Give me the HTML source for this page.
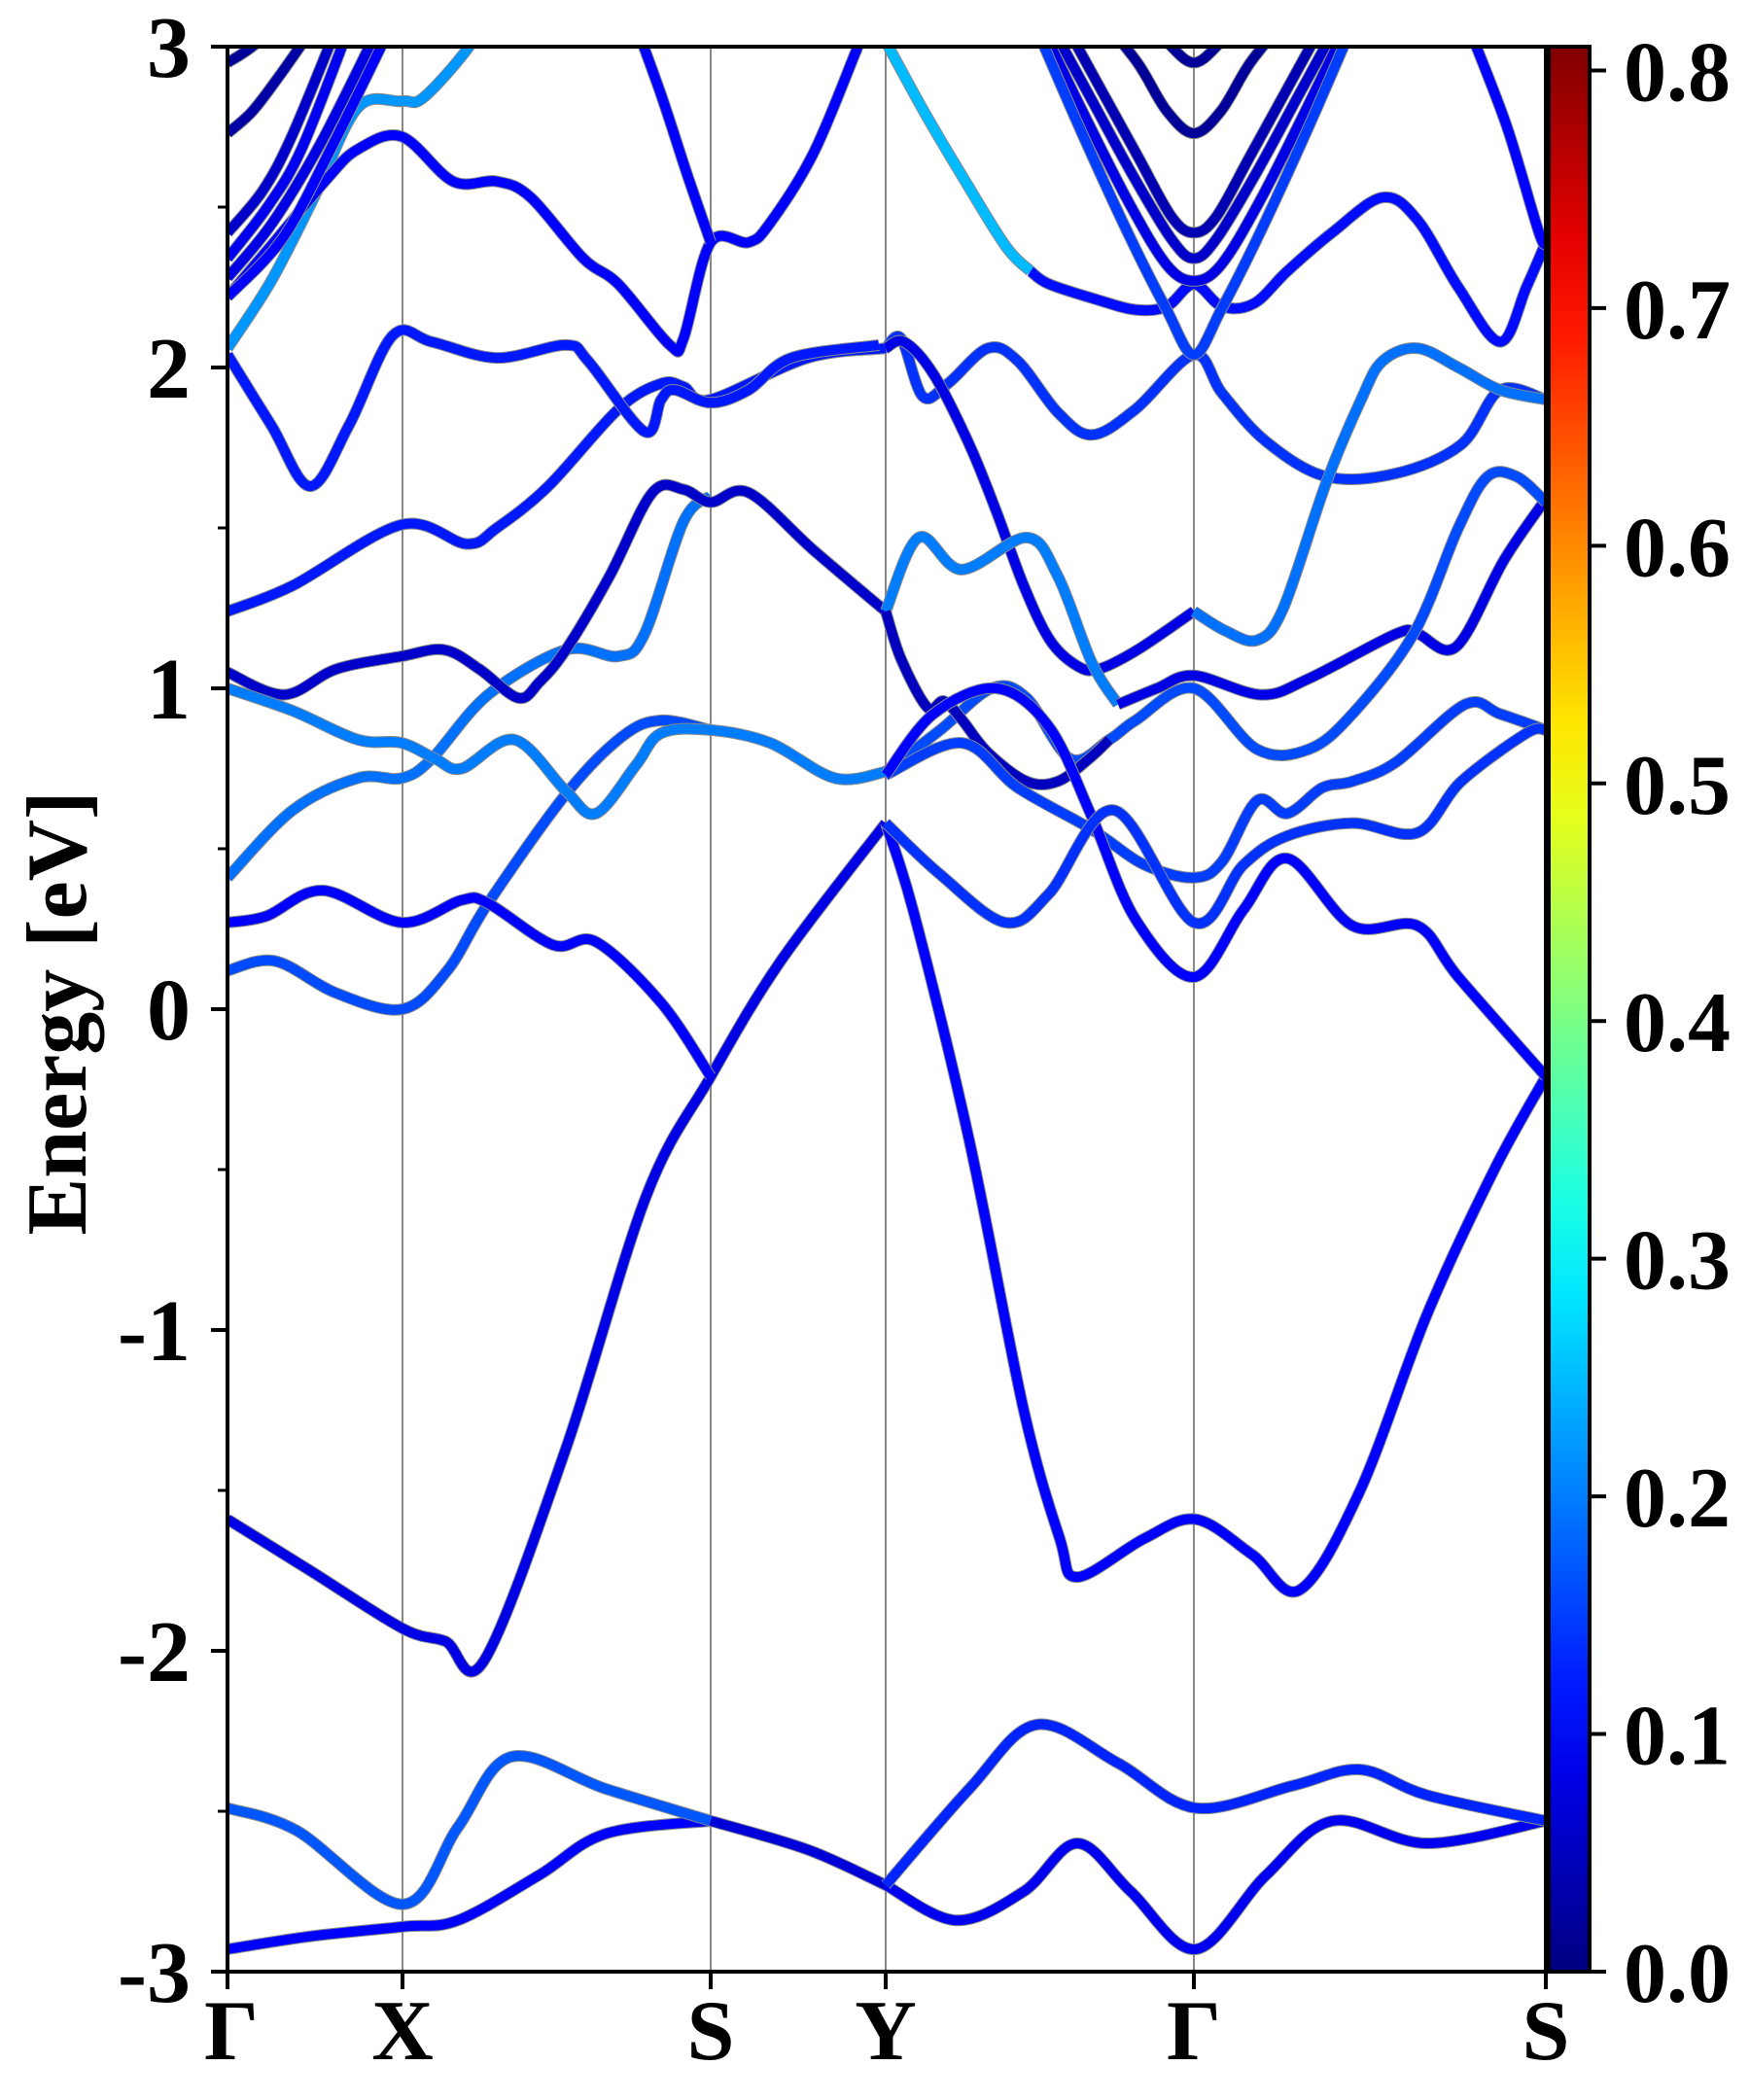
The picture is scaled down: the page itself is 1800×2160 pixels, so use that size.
<!DOCTYPE html>
<html><head><meta charset="utf-8"><style>
html,body{margin:0;padding:0;background:#fff;}
svg{display:block;}
text{font-family:"Liberation Serif",serif;font-weight:bold;fill:#000;}
</style></head><body>
<svg id="chart" width="1800" height="2160" viewBox="0 0 1800 2160" xmlns="http://www.w3.org/2000/svg">
<defs>
<clipPath id="plotclip"><rect x="234" y="48" width="1356" height="1980"/></clipPath>
<linearGradient id="jetgrad" x1="0" y1="1" x2="0" y2="0"></linearGradient>
</defs>
<g id="grid"></g>
<g id="bands" clip-path="url(#plotclip)"></g>
<rect x="234" y="48" width="1356" height="1980" fill="none" stroke="#000" stroke-width="4"/>
<g id="axes"></g>
<text x="0" y="0" font-size="88" text-anchor="middle" transform="translate(88,1042) rotate(-90)">Energy [eV]</text>
<g id="cbar"></g>
</svg>
<script>
// ---- data ----
const kTicks = [234, 414, 731, 911, 1228, 1590];
const kLabels = ["Γ", "X", "S", "Y", "Γ", "S"];
const yTicks = [3, 2, 1, 0, -1, -2, -3];
const yMinor = [2.5, 1.5, 0.5, -0.5, -1.5, -2.5];
const cbTicks = [0.0, 0.1, 0.2, 0.3, 0.4, 0.5, 0.6, 0.7, 0.8];
const cbLabels = ["0.0","0.1","0.2","0.3","0.4","0.5","0.6","0.7","0.8"];

const c1k=[234,319,414,471,554,623,731], c1e=[-2.93,-2.89,-2.86,-2.84,-2.7,-2.57,-2.53], c1w=0.1;
const c2k=[234,305,414,471,526,623,731], c2e=[-2.49,-2.56,-2.79,-2.55,-2.33,-2.43,-2.53], c2w=0.17;
const c3k=[731,831,911], c3e=[-2.53,-2.62,-2.73], c3w=0.07;
const c4k=[911,983,1053,1108,1163,1230,1302,1371,1468,1590], c4e=[-2.73,-2.84,-2.75,-2.6,-2.75,-2.93,-2.7,-2.53,-2.6,-2.53], c4w=0.09;
const c5k=[911,997,1066,1150,1230,1330,1399,1468,1590], c5e=[-2.73,-2.43,-2.23,-2.35,-2.49,-2.42,-2.37,-2.45,-2.53], c5w=0.13;
const c6k=[234,319,414,458,498,582,665,731,803,911], c6e=[-1.59,-1.75,-1.93,-1.97,-2.03,-1.37,-0.58,-0.21,0.15,0.58], c6w=0.08;
const c7k=[911,940,997,1053,1090,1108,1177,1230,1288,1337,1399,1468,1537,1590], c7e=[0.58,0.3,-0.41,-1.25,-1.65,-1.77,-1.65,-1.59,-1.7,-1.81,-1.5,-0.95,-0.5,-0.21], c7w=0.1;
const cAk=[234,283,346,414,460,502,582,640,680,731], cAe=[0.12,0.15,0.05,0.0,0.12,0.33,0.67,0.85,0.9,0.87], cAw=0.16;
const cBk=[234,274,332,413,475,502,569,613,680,731], cBe=[0.27,0.29,0.37,0.27,0.34,0.33,0.2,0.21,0.02,-0.21], cBw=0.1;
const cCk=[234,301,368,413,444,502,582,636,663,703,731], cCe=[0.41,0.62,0.72,0.72,0.78,0.98,1.12,1.1,1.17,1.52,1.6], cCw=0.19;
const cDk=[234,292,346,413,457,493,533,555,582,627,671,703,731,770,837,911], cDe=[1.05,0.98,1.06,1.1,1.12,1.06,0.97,1.02,1.12,1.35,1.61,1.62,1.58,1.61,1.43,1.24], cDw=0.06;
const cEk=[234,301,368,413,448,475,529,582,613,654,680,731,792,859,911], cEe=[1.0,0.93,0.84,0.83,0.78,0.75,0.84,0.68,0.61,0.76,0.86,0.87,0.83,0.72,0.74], cEw=0.2;
const cFk=[234,301,413,480,511,564,636,680,703,731,831,911], cFe=[1.24,1.32,1.51,1.45,1.5,1.63,1.87,1.95,1.94,1.9,2.03,2.06], cFw=0.12;
const cGk=[234,279,319,359,404,444,511,582,605,663,680,694,731,770,814,904], cGe=[2.04,1.82,1.63,1.82,2.1,2.08,2.03,2.07,2.02,1.8,1.9,1.93,1.89,1.93,2.03,2.07], cGw=0.12;
const cHk=[911,927,949,975,1016,1047,1088,1123,1168,1228,1257,1302,1364,1436,1503,1543,1590], cHe=[2.06,2.09,1.91,1.95,2.06,2.02,1.86,1.79,1.87,2.04,1.92,1.77,1.66,1.67,1.76,1.93,1.9], cHw=0.14;
const cI1k=[234,279,323,368,413,435,480,500], cI1e=[2.06,2.27,2.53,2.81,2.83,2.84,2.99,3.1], cI1w=0.22;
const cI2k=[234,279,337,368,413,466,511,546,600,636,689,703,731,770,792,837,881,895], cI2e=[2.22,2.38,2.59,2.68,2.72,2.58,2.58,2.53,2.34,2.26,2.07,2.09,2.39,2.39,2.45,2.67,2.99,3.1], cI2w=0.1;
const cS1k=[650,680,707,731], cS1e=[3.1,2.85,2.6,2.39], cS1w=0.1;
const cJ1k=[911,930,960,997,1025,1053,1080,1108,1130,1170,1228], cJ1e=[2.06,2.08,1.98,1.76,1.55,1.32,1.15,1.07,1.06,1.12,1.24], cJ1w=0.08;
const cJ2k=[1228,1260,1293,1320,1364,1400,1422,1458,1500,1543,1590], cJ2e=[1.24,1.18,1.15,1.25,1.64,1.9,2.02,2.06,2.0,1.93,1.9], cJ2w=0.19;
const cK1k=[911,945,989,1056,1088,1123,1150], cK1e=[1.24,1.47,1.37,1.47,1.35,1.08,0.95], cK1w=0.2;
const cK2k=[1150,1190,1228,1297,1346,1436,1458,1498,1547,1590], cK2e=[0.95,1.0,1.04,0.98,1.03,1.17,1.17,1.13,1.4,1.59], cK2w=0.08;
const cLk=[911,967,1020,1056,1101,1141,1168,1228,1293,1346,1391,1454,1500,1530,1560,1590], cLe=[0.74,0.87,1.0,0.97,0.78,0.84,0.9,1.0,0.81,0.81,0.92,1.17,1.5,1.66,1.66,1.58], cLw=0.16;
const cMk=[911,927,954,971,990,1016,1056,1088,1120,1141], cMe=[1.24,1.09,0.94,0.96,0.9,0.8,0.71,0.71,0.78,0.84], cMw=0.05;
const cNk=[911,989,1047,1123,1177,1228,1257,1293,1324,1360,1391,1436,1507,1543,1590], cNe=[0.73,0.83,0.69,0.56,0.45,0.41,0.46,0.65,0.61,0.69,0.71,0.77,0.95,0.92,0.87], cNw=0.15;
const cOk=[911,960,1025,1079,1123,1168,1228,1279,1324,1391,1458,1500,1590], cOe=[0.73,0.92,1.0,0.88,0.6,0.28,0.1,0.31,0.47,0.26,0.26,0.1,-0.21], cOw=0.1;
const cPk=[911,967,1034,1079,1146,1228,1279,1324,1391,1458,1503,1570,1590], cPe=[0.58,0.42,0.27,0.36,0.62,0.27,0.45,0.54,0.58,0.55,0.71,0.86,0.87], cPw=0.14;
const cQ1k=[905,950,989,1034,1060], cQ1e=[3.05,2.8,2.6,2.38,2.3], cQ1w=0.25;
const cQ2k=[1060,1079,1130,1168,1200,1228,1257,1290,1324,1370,1422,1458,1500,1543,1570,1590], cQ2e=[2.3,2.26,2.21,2.18,2.19,2.26,2.19,2.2,2.3,2.42,2.53,2.46,2.25,2.08,2.25,2.39], cQ2w=0.11;
const cRk=[1512,1550,1583,1590], cRe=[3.05,2.75,2.42,2.39], cRw=0.1;
const f1k=[1180,1205,1228,1251,1276], f1e=[3.1,3.0,2.95,3.0,3.1], f1w=0.02;
const f2k=[1130,1170,1200,1228,1256,1286,1326], f2e=[3.1,2.95,2.8,2.73,2.8,2.95,3.1], f2w=0.02;
const f3k=[1090,1130,1170,1205,1228,1251,1286,1326,1366], f3e=[3.1,2.88,2.66,2.47,2.42,2.47,2.66,2.88,3.1], f3w=0.04;
const f4k=[1075,1120,1165,1205,1228,1251,1291,1336,1381], f4e=[3.1,2.85,2.6,2.4,2.34,2.4,2.6,2.85,3.1], f4w=0.06;
const f5k=[1065,1110,1160,1200,1228,1256,1296,1346,1391], f5e=[3.1,2.82,2.52,2.32,2.27,2.32,2.52,2.82,3.1], f5w=0.08;
const f6k=[1060,1110,1160,1200,1228,1256,1296,1346,1396], f6e=[3.1,2.75,2.42,2.18,2.04,2.18,2.42,2.75,3.1], f6w=0.15;
const g1k=[234,255,280], g1e=[2.95,2.99,3.05], g1w=0.02;
const g2k=[234,260,290,320], g2e=[2.73,2.8,2.92,3.05], g2w=0.03;
const g3k=[234,270,300,345], g3e=[2.42,2.55,2.72,3.05], g3w=0.06;
const g4k=[234,275,310,358], g4e=[2.34,2.5,2.68,3.05], g4w=0.09;
const g5k=[234,280,330,388], g5e=[2.28,2.45,2.7,3.05], g5w=0.08;
const g6k=[234,290,340,400], g6e=[2.22,2.4,2.68,3.05], g6w=0.1;

const curves = [
 ["band-c1",c1k,c1e,c1w],["band-c2",c2k,c2e,c2w],["band-c3",c3k,c3e,c3w],["band-c4",c4k,c4e,c4w],["band-c5",c5k,c5e,c5w],
 ["band-c6",c6k,c6e,c6w],["band-c7",c7k,c7e,c7w],["band-a",cAk,cAe,cAw],["band-b",cBk,cBe,cBw],["band-c",cCk,cCe,cCw],
 ["band-d",cDk,cDe,cDw],["band-e",cEk,cEe,cEw],["band-f",cFk,cFe,cFw],["band-g",cGk,cGe,cGw],["band-h",cHk,cHe,cHw],["band-i1",cI1k,cI1e,cI1w],
 ["band-i2",cI2k,cI2e,cI2w],["band-s1",cS1k,cS1e,cS1w],["band-j1",cJ1k,cJ1e,cJ1w],["band-j2",cJ2k,cJ2e,cJ2w],
 ["band-k1",cK1k,cK1e,cK1w],["band-k2",cK2k,cK2e,cK2w],["band-l",cLk,cLe,cLw],["band-m",cMk,cMe,cMw],["band-n",cNk,cNe,cNw],
 ["band-o",cOk,cOe,cOw],["band-p",cPk,cPe,cPw],["band-q1",cQ1k,cQ1e,cQ1w],["band-q2",cQ2k,cQ2e,cQ2w],["band-r",cRk,cRe,cRw],
 ["band-f1",f1k,f1e,f1w],["band-f2",f2k,f2e,f2w],["band-f3",f3k,f3e,f3w],["band-f4",f4k,f4e,f4w],["band-f5",f5k,f5e,f5w],["band-f6",f6k,f6e,f6w],
 ["band-g1",g1k,g1e,g1w],["band-g2",g2k,g2e,g2w],["band-g3",g3k,g3e,g3w],["band-g4",g4k,g4e,g4w],["band-g5",g5k,g5e,g5w],["band-g6",g6k,g6e,g6w]
];

const NS="http://www.w3.org/2000/svg";
const X0=234,X1=1590,Y0=48,Y1=2028;
function xs(k){return X0+(k-234)/(1590-234)*(X1-X0);}
function ys(e){return Y1-(e+3)/6*(Y1-Y0);}
const CB_MAX=0.81, CBX=1593, CBW=42;
function cby(v){return 2028-v/CB_MAX*(2028-48);}
function jet(v){
  const t=Math.max(0,Math.min(1,v/CB_MAX));
  const f=x=>Math.max(0,Math.min(1,x));
  const r=f(1.5-Math.abs(4*t-3)), g=f(1.5-Math.abs(4*t-2)), b=f(1.5-Math.abs(4*t-1));
  return "rgb("+Math.round(r*255)+","+Math.round(g*255)+","+Math.round(b*255)+")";
}
function mk(tag,attrs,parent){const el=document.createElementNS(NS,tag);for(const a in attrs)el.setAttribute(a,attrs[a]);parent.appendChild(el);return el;}
function pathFrom(ks,es){
  const p=ks.map((k,i)=>[xs(k),ys(es[i])]);
  let d="M"+p[0][0].toFixed(1)+","+p[0][1].toFixed(1);
  for(let i=0;i<p.length-1;i++){
    const p0=p[i-1]||p[i],p1=p[i],p2=p[i+1],p3=p[i+2]||p[i+1];
    const c1=[p1[0]+(p2[0]-p0[0])/6,p1[1]+(p2[1]-p0[1])/6];
    const c2=[p2[0]-(p3[0]-p1[0])/6,p2[1]-(p3[1]-p1[1])/6];
    d+="C"+c1[0].toFixed(1)+","+c1[1].toFixed(1)+" "+c2[0].toFixed(1)+","+c2[1].toFixed(1)+" "+p2[0].toFixed(1)+","+p2[1].toFixed(1);
  }
  return d;
}

const grid=document.getElementById("grid");
kTicks.slice(1,-1).forEach((k,i)=>{
  const l=mk("line",{x1:xs(k),x2:xs(k),y1:Y0,y2:Y1,stroke:"#888",'stroke-width':2},grid);
  
  
});

const bands=document.getElementById("bands");
curves.forEach(c=>{
  const d=pathFrom(c[1],c[2]);
  const g=mk("g",{},bands);
  
  
  mk("path",{d:d,fill:"none",stroke:"#8a8a8a",'stroke-width':12,'stroke-linecap':"butt"},g);
  mk("path",{d:d,fill:"none",stroke:jet(c[3]),'stroke-width':10,'stroke-linecap':"butt"},g);
});

const axes=document.getElementById("axes");
yTicks.forEach(v=>{
  const t=mk("line",{x1:217,x2:X0,y1:ys(v),y2:ys(v),stroke:"#000",'stroke-width':4},axes);
  
  
  const tx=mk("text",{x:196,y:ys(v)+31,'font-size':90,'text-anchor':"end"},axes);
  
  
  tx.textContent=String(v);
});
yMinor.forEach(v=>{
  const t=mk("line",{x1:224,x2:X0,y1:ys(v),y2:ys(v),stroke:"#000",'stroke-width':3},axes);
  
  
});
kTicks.forEach((k,i)=>{
  const t=mk("line",{x1:xs(k),x2:xs(k),y1:Y1,y2:Y1+18,stroke:"#000",'stroke-width':4},axes);
  
  
  const tx=mk("text",{x:xs(k)+(i===0?4:0),y:2118,'font-size':88,'text-anchor':"middle"},axes);
  
  
  tx.textContent=kLabels[i];
});

const grad=document.getElementById("jetgrad");
for(let i=0;i<=20;i++){const v=i/20*CB_MAX;mk("stop",{offset:(i/20).toFixed(3),'stop-color':jet(v)},grad);}
const cbar=document.getElementById("cbar");
const cr=mk("rect",{x:CBX,y:Y0,width:CBW,height:Y1-Y0,fill:"url(#jetgrad)",stroke:"#000",'stroke-width':4},cbar);


cbTicks.forEach((v,i)=>{
  const t=mk("line",{x1:CBX+CBW,x2:CBX+CBW+17,y1:cby(v),y2:cby(v),stroke:"#000",'stroke-width':4},cbar);
  
  
  const tx=mk("text",{x:1670,y:cby(v)+31,'font-size':88},cbar);
  
  
  tx.textContent=cbLabels[i];
});
</script>
</body></html>
